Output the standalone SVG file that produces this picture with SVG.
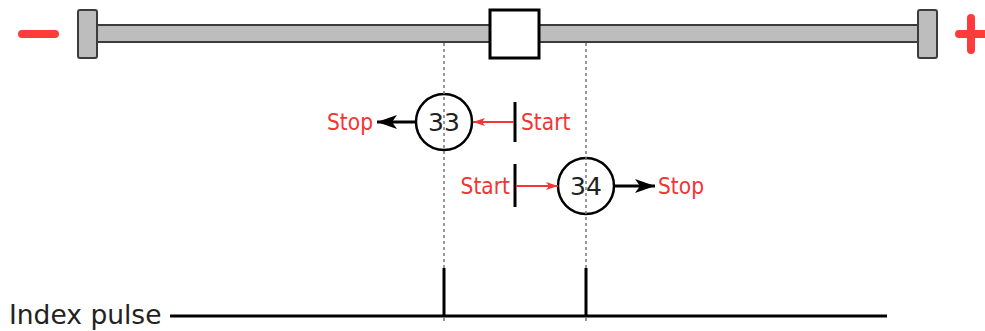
<svg xmlns="http://www.w3.org/2000/svg" width="985" height="331" viewBox="0 0 985 331">
<style>
.red{fill:#f23535;font-family:"DejaVu Sans Condensed","DejaVu Sans",Verdana,sans-serif;font-size:22.5px}
.num{fill:#222;font-family:"DejaVu Sans",Verdana,sans-serif;font-size:25px;text-anchor:middle}
.lbl{fill:#222;font-family:"DejaVu Sans",Verdana,sans-serif;font-size:26.5px}
.cap{fill:#bdbdbd;stroke:#3c3c3c;stroke-width:2}
.sign{stroke:#ff3b3b;stroke-width:8;stroke-linecap:round;fill:none}
.guide{stroke:#777;stroke-width:1.5;stroke-dasharray:3 3;fill:none}
.blk{stroke:#000;stroke-width:3;fill:none}
.redl{stroke:#f23535;stroke-width:2;fill:none}
.node{fill:#fff;stroke:#000;stroke-width:2.5}
</style>
<defs>
<marker id="ab" viewBox="0 0 20 14" refX="20" refY="7" markerWidth="20" markerHeight="14" markerUnits="userSpaceOnUse" orient="auto">
<path d="M0,0 L20,7 L0,14 L5,7 Z" fill="#000"/>
</marker>
<marker id="ar" viewBox="0 0 12 8" refX="12" refY="4" markerWidth="12" markerHeight="8" markerUnits="userSpaceOnUse" orient="auto">
<path d="M0,0 L12,4 L0,8 L3,4 Z" fill="#f23535"/>
</marker>
</defs>
<rect width="985" height="331" fill="#fff"/>
<g id="axis">
<line class="sign" x1="22" y1="34" x2="55" y2="34"/>
<line class="sign" x1="959" y1="34" x2="985" y2="34"/>
<line class="sign" x1="971" y1="18" x2="971" y2="50"/>
<rect class="cap" x="97" y="25" width="821" height="17"/>
<rect class="cap" x="78" y="10" width="19" height="48" rx="2"/>
<rect class="cap" x="918" y="10" width="19" height="48" rx="2"/>
</g>
<g id="carriage">
<rect x="490" y="10" width="49" height="48" fill="#fff" stroke="#000" stroke-width="3"/>
</g>
<g id="node33">
<circle class="node" cx="444" cy="122" r="28"/>
<text class="num" x="444" y="131">33</text>
</g>
<g id="node34">
<circle class="node" cx="586" cy="186" r="28"/>
<text class="num" x="586" y="195">34</text>
</g>
<g id="start33">
<line class="blk" x1="515" y1="102" x2="515" y2="142"/>
<text class="red" x="521" y="130">Start</text>
</g>
<g id="stop33">
<text class="red" x="373" y="130" text-anchor="end">Stop</text>
</g>
<g id="start34">
<line class="blk" x1="515" y1="164" x2="515" y2="207"/>
<text class="red" x="510" y="194" text-anchor="end">Start</text>
</g>
<g id="stop34">
<text class="red" x="658" y="194">Stop</text>
</g>
<g id="connectors">
<line class="redl" x1="514" y1="122" x2="473" y2="122" marker-end="url(#ar)"/>
<line class="blk" x1="416" y1="122" x2="377" y2="122" marker-end="url(#ab)"/>
<line class="redl" x1="516" y1="186" x2="558" y2="186" marker-end="url(#ar)"/>
<line class="blk" x1="614" y1="186" x2="655" y2="186" marker-end="url(#ab)"/>
<path class="guide" d="M444,43 V268 M444,318 V323 M586,43 V268 M586,318 V323"/>
</g>
<g id="index-pulse">
<text class="lbl" x="9" y="324">Index pulse</text>
<polyline class="blk" points="170,316 444,316 444,268 444,316 586,316 586,268 586,316 887,316"/>
</g>
</svg>
